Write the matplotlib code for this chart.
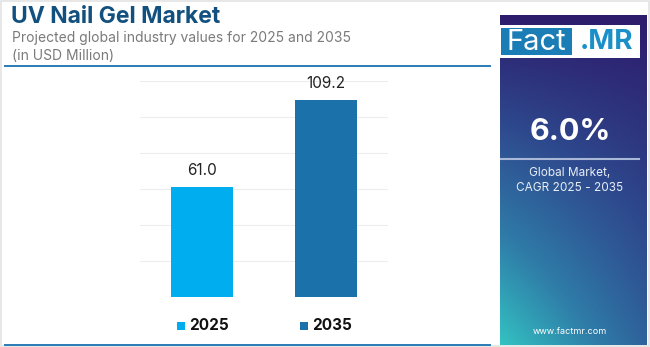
import numpy as np
import matplotlib.pyplot as plt
from matplotlib.patches import Rectangle
from matplotlib.colors import LinearSegmentedColormap

plt.rcParams['font.family'] = ['Inter', 'DejaVu Sans']

years = ['2025', '2035']
values = [61.0, 109.2]
bar_colors = ['#00AEEF', '#1B71A9']
cagr = '6.0%'

W, H = 650, 347
fig = plt.figure(figsize=(W / 100, H / 100), dpi=100)
fig.patch.set_facecolor('white')


def px(x, y):
    # pixel coords (top-left origin) -> figure fraction
    return x / W, 1 - y / H


# outer light frame
fig.add_artist(Rectangle((0.002, 0.002), 0.996, 0.994, transform=fig.transFigure,
                         fill=False, edgecolor='#E3E3E3', linewidth=1.2))

# header
fig.text(*px(11, 17), 'UV Nail Gel Market', fontsize=16.5, fontweight='bold',
         color='#12507F', va='center', ha='left')
fig.text(*px(12, 38), 'Projected global industry values for 2025 and 2035',
         fontsize=10, color='#7A7A7A', va='center', ha='left')
fig.text(*px(12, 56), '(in USD Million)', fontsize=10, color='#7A7A7A',
         va='center', ha='left')
fig.add_artist(plt.Line2D([5 / W, 490 / W], [1 - 66 / H] * 2, transform=fig.transFigure,
                          color='#2B7BB5', linewidth=1.4))
fig.add_artist(plt.Line2D([5 / W, 490 / W], [1 - 345 / H] * 2, transform=fig.transFigure,
                          color='#2B7BB5', linewidth=1.4))

# bars
ax = fig.add_axes([140 / W, 1 - 297.3 / H, 248 / W, (297.3 - 80.7) / H])
ax.bar(range(len(years)), values, width=0.5, color=bar_colors, zorder=2)
ax.set_xlim(-0.5, 1.5)
ax.set_ylim(0, 120)
ax.set_yticks(np.arange(0, 121, 20))
ax.grid(axis='y', color='#EDEDED', linewidth=0.8, zorder=0)
ax.tick_params(left=False, bottom=False, labelleft=False, labelbottom=False)
for s in ax.spines.values():
    s.set_visible(False)
for i, v in enumerate(values):
    ax.text(i, v + 5, f'{v:.1f}', ha='center', va='bottom', fontsize=11, color='#222222')

# legend
for (lx, label, c) in [(177, years[0], bar_colors[0]), (300, years[1], bar_colors[1])]:
    fig.add_artist(Rectangle((lx / W, 1 - 330 / H), 8 / W, 8 / H, transform=fig.transFigure,
                             facecolor=c, edgecolor='none'))
    fig.text((lx + 12) / W, 1 - 326 / H, label, fontsize=11, fontweight='bold',
             color='#111111', va='center', ha='left')

# right panel with gradient
pax = fig.add_axes([500 / W, 1 - 345 / H, 147 / W, 330 / H])
yy, xx = np.mgrid[0:1:200j, 0:1:100j]
t = np.clip(yy * (1 - 0.5 * xx), 0, 1)
cmap = LinearSegmentedColormap.from_list('panel', ['#2D1C6C', '#2E4A8E', '#2F7CA8', '#33C2C2'])
pax.imshow(t, cmap=cmap, aspect='auto', extent=[0, 1, 0, 1], origin='upper', vmin=0, vmax=1)
pax.set_xlim(0, 1)
pax.set_ylim(0, 1)
pax.axis('off')

# logo
fig.add_artist(Rectangle((498 / W, 1 - 58 / H), 142 / W, 33 / H, transform=fig.transFigure,
                         facecolor='white', edgecolor='none'))
fig.add_artist(Rectangle((501 / W, 1 - 55 / H), 71 / W, 27 / H, transform=fig.transFigure,
                         facecolor='#1A7DB5', edgecolor='none'))
fig.text(536 / W, 1 - 42 / H, 'Fact', fontsize=21, color='white', ha='center', va='center')
fig.text(606 / W, 1 - 42 / H, '.MR', fontsize=20, color='#1A8FC8', fontweight='bold',
         ha='center', va='center')

fig.text(570 / W, 1 - 132 / H, cagr, fontsize=22, fontweight='bold', color='white',
         ha='center', va='center')
fig.add_artist(plt.Line2D([501 / W, 639 / W], [1 - 159 / H] * 2, transform=fig.transFigure,
                          color='#A9B8D6', linewidth=1.5))
fig.text(570 / W, 1 - 173 / H, 'Global Market,', fontsize=8.5, color='#E8EEF6',
         ha='center', va='center')
fig.text(570 / W, 1 - 188 / H, 'CAGR 2025 - 2035', fontsize=8.5, color='#E8EEF6',
         ha='center', va='center')
fig.text(570 / W, 1 - 332 / H, 'www.factmr.com', fontsize=6.5, color='white',
         ha='center', va='center')

fig.savefig('out.png', dpi=100)
